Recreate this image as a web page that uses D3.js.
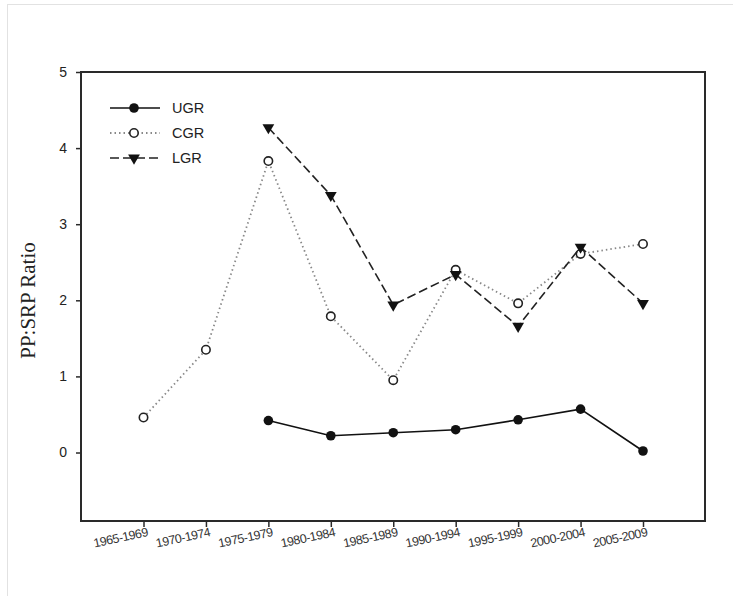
<!DOCTYPE html>
<html>
<head>
<meta charset="utf-8">
<script src="https://cdn.jsdelivr.net/npm/d3@7"></script>
<style>
  html, body { margin: 0; padding: 0; background: #fff; }
  svg { display: block; }
</style>
</head>
<body>
<svg id="chart" width="733" height="596"></svg>
<script>
// Five-year periods on the x axis
const periods = ["1965-1969", "1970-1974", "1975-1979", "1980-1984", "1985-1989",
                 "1990-1994", "1995-1999", "2000-2004", "2005-2009"];
const yTicks = [0, 1, 2, 3, 4, 5];

// PP:SRP ratio per period (null = no data)
const ugr = [null, null, 0.42, 0.22, 0.26, 0.30, 0.43, 0.57, 0.02];
const cgr = [0.46, 1.35, 3.83, 1.79, 0.95, 2.40, 1.96, 2.61, 2.74];
const lgr = [null, null, 4.27, 3.38, 1.94, 2.34, 1.66, 2.70, 1.96];

const svg = d3.select("#chart");

// light outer frame
svg.append("rect").attr("x", 7.5).attr("y", 4.5).attr("width", 760).attr("height", 620)
  .attr("fill", "none").attr("stroke", "#e2e2e2").attr("stroke-width", 1);

const box = { left: 81, right: 705, top: 72, bottom: 521 };

const x = d3.scalePoint().domain(periods).range([143.5, 643]);
const y = d3.scaleLinear().domain([-0.9, 5]).range([box.bottom, box.top]);

// plot frame
svg.append("rect")
  .attr("x", box.left).attr("y", box.top)
  .attr("width", box.right - box.left).attr("height", box.bottom - box.top)
  .attr("fill", "none").attr("stroke", "#2a2a2a").attr("stroke-width", 2);

// y axis
const yAxis = d3.axisLeft(y).tickValues(yTicks).tickSize(5).tickPadding(9).tickFormat(d3.format("d"));
const gy = svg.append("g").attr("transform", `translate(${box.left},0)`).call(yAxis);
gy.select(".domain").remove();
gy.selectAll(".tick line").attr("stroke", "#2a2a2a").attr("stroke-width", 1.5);
gy.selectAll(".tick text").attr("font-family", "'Liberation Sans', Arial, sans-serif")
  .attr("font-size", 14).attr("fill", "#222");

// x axis
const xAxis = d3.axisBottom(x).tickSize(6).tickFormat("");
const gx = svg.append("g").attr("transform", `translate(0,${box.bottom})`).call(xAxis);
gx.select(".domain").remove();
gx.selectAll(".tick line").attr("stroke", "#2a2a2a").attr("stroke-width", 1.5);

// slanted period labels
svg.append("g").selectAll("text").data(periods).join("text")
  .attr("transform", d => `translate(${x(d) + 5},${box.bottom + 15}) rotate(-12)`)
  .attr("text-anchor", "end")
  .attr("font-family", "'Liberation Sans', Arial, sans-serif")
  .attr("font-size", 12.5)
  .attr("letter-spacing", -0.5)
  .attr("fill", "#333")
  .text(d => d);

// y axis title
svg.append("text")
  .attr("transform", `translate(35,${(y(5) + y(-0.9)) / 2 + 4}) rotate(-90)`)
  .attr("text-anchor", "middle")
  .attr("font-family", "'Liberation Serif', 'Times New Roman', serif")
  .attr("font-size", 21)
  .attr("fill", "#222")
  .text("PP:SRP Ratio");

const series = [
  { name: "UGR", values: ugr, dash: null, stroke: "#111", width: 1.6, marker: "dot" },
  { name: "CGR", values: cgr, dash: "1.5,3", stroke: "#888", width: 1.8, marker: "ring" },
  { name: "LGR", values: lgr, dash: "9,4", stroke: "#222", width: 1.6, marker: "tri" }
];

const line = d3.line()
  .defined(d => d.v != null)
  .x(d => x(d.p)).y(d => y(d.v));

const triangle = d3.symbol().type(d3.symbolTriangle).size(60);

function drawMarker(g, kind, cx, cy) {
  if (kind === "dot") {
    g.append("circle").attr("cx", cx).attr("cy", cy).attr("r", 4.8).attr("fill", "#111");
  } else if (kind === "ring") {
    g.append("circle").attr("cx", cx).attr("cy", cy).attr("r", 4.2)
      .attr("fill", "#fff").attr("stroke", "#222").attr("stroke-width", 1.6);
  } else {
    g.append("path").attr("d", triangle())
      .attr("transform", `translate(${cx},${cy}) rotate(180)`)
      .attr("fill", "#111");
  }
}

series.forEach(s => {
  const pts = periods.map((p, i) => ({ p, v: s.values[i] }));
  const g = svg.append("g");
  g.append("path").datum(pts)
    .attr("d", line)
    .attr("fill", "none")
    .attr("stroke", s.stroke)
    .attr("stroke-width", s.width)
    .attr("stroke-dasharray", s.dash);
  pts.filter(d => d.v != null).forEach(d => drawMarker(g, s.marker, x(d.p), y(d.v)));
});

// legend
const legend = svg.append("g");
series.forEach((s, i) => {
  const ly = 108 + i * 25;
  legend.append("line")
    .attr("x1", 110).attr("x2", 160).attr("y1", ly).attr("y2", ly)
    .attr("stroke", s.stroke).attr("stroke-width", s.width)
    .attr("stroke-dasharray", s.dash);
  drawMarker(legend, s.marker, 134, ly);
  legend.append("text")
    .attr("x", 172).attr("y", ly + 5)
    .attr("font-family", "'Liberation Sans', Arial, sans-serif")
    .attr("font-size", 14.5)
    .attr("fill", "#222")
    .text(s.name);
});
</script>
</body>
</html>
